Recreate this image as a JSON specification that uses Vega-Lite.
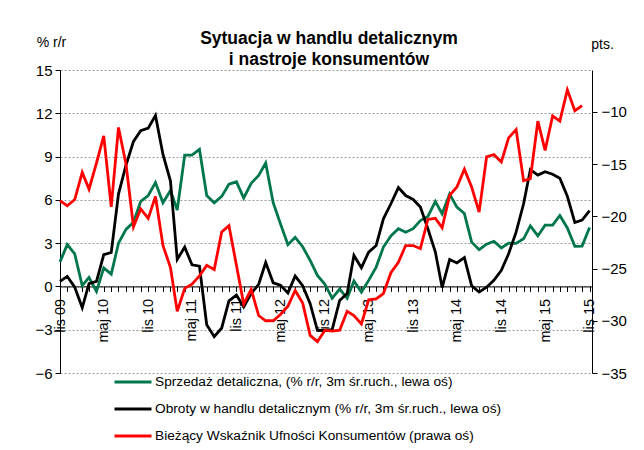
{
  "$schema": "https://vega.github.io/schema/vega-lite/v6.json",
  "width": 532,
  "height": 303,
  "autosize": {"type": "none"},
  "padding": {"left": 60, "top": 70, "right": 52, "bottom": 77},
  "background": "white",
  "title": {
    "text": ["Sytuacja w handlu detalicznym", "i nastroje konsumentów"],
    "fontSize": 17.5,
    "fontWeight": "bold",
    "font": "Liberation Sans",
    "anchor": "middle",
    "lineHeight": 21,
    "offset": 4,
    "dx": 3,
    "dy": 37,
    "color": "black"
  },
  "data": {
    "values": [
      {"m": "2009-11-01T00:00:00", "sprzedaz": 1.7, "obroty": 0.35, "ufnosc": -18.5},
      {"m": "2009-12-01T00:00:00", "sprzedaz": 2.9, "obroty": 0.7, "ufnosc": -19.0},
      {"m": "2010-01-01T00:00:00", "sprzedaz": 2.25, "obroty": -0.05, "ufnosc": -18.4},
      {"m": "2010-02-01T00:00:00", "sprzedaz": 0.05, "obroty": -1.48, "ufnosc": -15.8},
      {"m": "2010-03-01T00:00:00", "sprzedaz": 0.62, "obroty": 0.2, "ufnosc": -17.4},
      {"m": "2010-04-01T00:00:00", "sprzedaz": -0.35, "obroty": 0.35, "ufnosc": -14.9},
      {"m": "2010-05-01T00:00:00", "sprzedaz": 1.28, "obroty": 2.2, "ufnosc": -12.3},
      {"m": "2010-06-01T00:00:00", "sprzedaz": 0.85, "obroty": 2.35, "ufnosc": -19.1},
      {"m": "2010-07-01T00:00:00", "sprzedaz": 3.0, "obroty": 6.4, "ufnosc": -11.5},
      {"m": "2010-08-01T00:00:00", "sprzedaz": 3.95, "obroty": 8.4, "ufnosc": -15.0},
      {"m": "2010-09-01T00:00:00", "sprzedaz": 4.45, "obroty": 10.05, "ufnosc": -21.0},
      {"m": "2010-10-01T00:00:00", "sprzedaz": 5.9, "obroty": 10.8, "ufnosc": -19.3},
      {"m": "2010-11-01T00:00:00", "sprzedaz": 6.3, "obroty": 10.97, "ufnosc": -20.2},
      {"m": "2010-12-01T00:00:00", "sprzedaz": 7.2, "obroty": 11.85, "ufnosc": -18.1},
      {"m": "2011-01-01T00:00:00", "sprzedaz": 5.8, "obroty": 9.15, "ufnosc": -22.8},
      {"m": "2011-02-01T00:00:00", "sprzedaz": 6.65, "obroty": 7.3, "ufnosc": -24.9},
      {"m": "2011-03-01T00:00:00", "sprzedaz": 5.3, "obroty": 1.88, "ufnosc": -29.1},
      {"m": "2011-04-01T00:00:00", "sprzedaz": 9.1, "obroty": 2.72, "ufnosc": -26.9},
      {"m": "2011-05-01T00:00:00", "sprzedaz": 9.1, "obroty": 1.5, "ufnosc": -26.5},
      {"m": "2011-06-01T00:00:00", "sprzedaz": 9.5, "obroty": 1.4, "ufnosc": -25.7},
      {"m": "2011-07-01T00:00:00", "sprzedaz": 6.3, "obroty": -2.65, "ufnosc": -24.7},
      {"m": "2011-08-01T00:00:00", "sprzedaz": 5.8, "obroty": -3.48, "ufnosc": -25.1},
      {"m": "2011-09-01T00:00:00", "sprzedaz": 6.24, "obroty": -2.88, "ufnosc": -21.5},
      {"m": "2011-10-01T00:00:00", "sprzedaz": 7.08, "obroty": -1.0, "ufnosc": -20.9},
      {"m": "2011-11-01T00:00:00", "sprzedaz": 7.25, "obroty": -0.6, "ufnosc": -24.7},
      {"m": "2011-12-01T00:00:00", "sprzedaz": 6.13, "obroty": -1.43, "ufnosc": -28.4},
      {"m": "2012-01-01T00:00:00", "sprzedaz": 7.15, "obroty": -0.5, "ufnosc": -27.0},
      {"m": "2012-02-01T00:00:00", "sprzedaz": 7.69, "obroty": 0.15, "ufnosc": -29.5},
      {"m": "2012-03-01T00:00:00", "sprzedaz": 8.55, "obroty": 1.66, "ufnosc": -30.0},
      {"m": "2012-04-01T00:00:00", "sprzedaz": 5.8, "obroty": 0.25, "ufnosc": -30.0},
      {"m": "2012-05-01T00:00:00", "sprzedaz": 4.34, "obroty": 0.08, "ufnosc": -29.4},
      {"m": "2012-06-01T00:00:00", "sprzedaz": 2.89, "obroty": -0.45, "ufnosc": -28.6},
      {"m": "2012-07-01T00:00:00", "sprzedaz": 3.4, "obroty": 0.72, "ufnosc": -27.1},
      {"m": "2012-08-01T00:00:00", "sprzedaz": 2.75, "obroty": 0.05, "ufnosc": -28.3},
      {"m": "2012-09-01T00:00:00", "sprzedaz": 1.8, "obroty": -1.2, "ufnosc": -31.4},
      {"m": "2012-10-01T00:00:00", "sprzedaz": 0.76, "obroty": -3.05, "ufnosc": -32.0},
      {"m": "2012-11-01T00:00:00", "sprzedaz": 0.15, "obroty": -3.05, "ufnosc": -30.9},
      {"m": "2012-12-01T00:00:00", "sprzedaz": -0.82, "obroty": -3.0, "ufnosc": -31.0},
      {"m": "2013-01-01T00:00:00", "sprzedaz": -0.18, "obroty": -0.97, "ufnosc": -30.9},
      {"m": "2013-02-01T00:00:00", "sprzedaz": -0.82, "obroty": -0.5, "ufnosc": -29.1},
      {"m": "2013-03-01T00:00:00", "sprzedaz": 0.38, "obroty": 2.15, "ufnosc": -29.5},
      {"m": "2013-04-01T00:00:00", "sprzedaz": -0.39, "obroty": 1.3, "ufnosc": -30.3},
      {"m": "2013-05-01T00:00:00", "sprzedaz": 0.42, "obroty": 2.38, "ufnosc": -28.0},
      {"m": "2013-06-01T00:00:00", "sprzedaz": 1.34, "obroty": 2.84, "ufnosc": -27.9},
      {"m": "2013-07-01T00:00:00", "sprzedaz": 2.73, "obroty": 4.69, "ufnosc": -27.4},
      {"m": "2013-08-01T00:00:00", "sprzedaz": 3.5, "obroty": 5.73, "ufnosc": -25.4},
      {"m": "2013-09-01T00:00:00", "sprzedaz": 4.0, "obroty": 6.85, "ufnosc": -24.4},
      {"m": "2013-10-01T00:00:00", "sprzedaz": 3.76, "obroty": 6.3, "ufnosc": -22.8},
      {"m": "2013-11-01T00:00:00", "sprzedaz": 4.0, "obroty": 6.03, "ufnosc": -22.8},
      {"m": "2013-12-01T00:00:00", "sprzedaz": 4.57, "obroty": 5.5, "ufnosc": -23.1},
      {"m": "2014-01-01T00:00:00", "sprzedaz": 4.85, "obroty": 4.0, "ufnosc": -20.3},
      {"m": "2014-02-01T00:00:00", "sprzedaz": 5.89, "obroty": 2.38, "ufnosc": -20.2},
      {"m": "2014-03-01T00:00:00", "sprzedaz": 5.03, "obroty": -0.08, "ufnosc": -21.1},
      {"m": "2014-04-01T00:00:00", "sprzedaz": 6.4, "obroty": 1.87, "ufnosc": -18.0},
      {"m": "2014-05-01T00:00:00", "sprzedaz": 5.5, "obroty": 1.63, "ufnosc": -17.2},
      {"m": "2014-06-01T00:00:00", "sprzedaz": 5.05, "obroty": 2.0, "ufnosc": -15.5},
      {"m": "2014-07-01T00:00:00", "sprzedaz": 3.07, "obroty": 0.05, "ufnosc": -17.2},
      {"m": "2014-08-01T00:00:00", "sprzedaz": 2.55, "obroty": -0.39, "ufnosc": -19.6},
      {"m": "2014-09-01T00:00:00", "sprzedaz": 2.93, "obroty": -0.05, "ufnosc": -14.3},
      {"m": "2014-10-01T00:00:00", "sprzedaz": 3.13, "obroty": 0.42, "ufnosc": -14.1},
      {"m": "2014-11-01T00:00:00", "sprzedaz": 2.67, "obroty": 1.11, "ufnosc": -14.8},
      {"m": "2014-12-01T00:00:00", "sprzedaz": 3.0, "obroty": 2.26, "ufnosc": -12.5},
      {"m": "2015-01-01T00:00:00", "sprzedaz": 2.98, "obroty": 3.76, "ufnosc": -11.7},
      {"m": "2015-02-01T00:00:00", "sprzedaz": 3.3, "obroty": 5.73, "ufnosc": -16.6},
      {"m": "2015-03-01T00:00:00", "sprzedaz": 4.2, "obroty": 8.1, "ufnosc": -16.4},
      {"m": "2015-04-01T00:00:00", "sprzedaz": 3.5, "obroty": 7.72, "ufnosc": -10.9},
      {"m": "2015-05-01T00:00:00", "sprzedaz": 4.25, "obroty": 7.95, "ufnosc": -13.7},
      {"m": "2015-06-01T00:00:00", "sprzedaz": 4.25, "obroty": 7.78, "ufnosc": -10.4},
      {"m": "2015-07-01T00:00:00", "sprzedaz": 4.92, "obroty": 7.5, "ufnosc": -10.9},
      {"m": "2015-08-01T00:00:00", "sprzedaz": 4.05, "obroty": 6.25, "ufnosc": -7.9},
      {"m": "2015-09-01T00:00:00", "sprzedaz": 2.78, "obroty": 4.43, "ufnosc": -9.9},
      {"m": "2015-10-01T00:00:00", "sprzedaz": 2.8, "obroty": 4.6, "ufnosc": -9.4},
      {"m": "2015-11-01T00:00:00", "sprzedaz": 4.08, "obroty": 5.25, "ufnosc": null}
    ]
  },
  "layer": [
    {
      "transform": [{"fold": ["sprzedaz", "obroty"], "as": ["series", "value"]}],
      "mark": {"type": "line", "strokeWidth": 2.8, "strokeJoin": "miter"},
      "encoding": {
        "x": {
          "field": "m",
          "type": "temporal",
          "scale": {
            "domain": [
              {"year": 2009, "month": 11, "date": 1},
              {"year": 2015, "month": 11, "date": 11}
            ],
            "nice": false
          },
          "axis": {
            "orient": "bottom",
            "offset": -86.57,
            "tickCount": {"interval": "month", "step": 1},
            "labelExpr": "month(datum.value) == 4 ? 'maj ' + timeFormat(datum.value, '%y') : (month(datum.value) == 10 ? 'lis ' + timeFormat(datum.value, '%y') : '')",
            "labelAngle": 270,
            "labelAlign": "right",
            "labelBaseline": "middle",
            "labelFontSize": 14.5,
            "labelPadding": 7,
            "labelOverlap": false,
            "labelFlush": false,
            "labelBound": false,
            "tickSize": 5,
            "grid": false,
            "title": null
          }
        },
        "y": {
          "field": "value",
          "type": "quantitative",
          "scale": {"domain": [-6, 15], "nice": false, "zero": false},
          "axis": {
            "values": [-6, -3, 0, 3, 6, 9, 12, 15],
            "grid": true,
            "gridDash": [2, 2],
            "gridColor": "#9a9a9a",
            "gridWidth": 1,
            "tickSize": 5,
            "labelFontSize": 15,
            "labelPadding": 3,
            "labelFlush": false,
            "title": "% r/r",
            "titleAngle": 0,
            "titleX": -9,
            "titleY": -28,
            "titleAlign": "center",
            "titleBaseline": "middle",
            "titleFontWeight": "normal",
            "titleFontSize": 14
          }
        },
        "color": {
          "field": "series",
          "type": "nominal",
          "scale": {
            "domain": ["sprzedaz", "obroty", "ufnosc"],
            "range": ["#00774A", "#000000", "#FF0000"]
          },
          "legend": {
            "orient": "none",
            "legendX": 53,
            "legendY": 292,
            "direction": "vertical",
            "title": null,
            "symbolType": "stroke",
            "symbolSize": 1369,
            "symbolStrokeWidth": 2.8,
            "labelFontSize": 13.7,
            "labelOffset": 2,
            "rowPadding": -5,
            "labelLimit": 0,
            "padding": 0,
            "labelColor": "black",
            "labelExpr": "datum.label == 'sprzedaz' ? 'Sprzedaż detaliczna, (% r/r, 3m śr.ruch., lewa oś)' : (datum.label == 'obroty' ? 'Obroty w handlu detalicznym (% r/r, 3m śr.ruch., lewa oś)' : 'Bieżący Wskaźnik Ufności Konsumentów (prawa oś)')"
          }
        }
      }
    },
    {
      "transform": [{"fold": ["ufnosc"], "as": ["series", "value"]}],
      "mark": {"type": "line", "strokeWidth": 2.8, "strokeJoin": "miter"},
      "encoding": {
        "x": {"field": "m", "type": "temporal"},
        "y": {
          "field": "value",
          "type": "quantitative",
          "scale": {"domain": [-35, -6], "nice": false, "zero": false},
          "axis": {
            "orient": "right",
            "values": [-35, -30, -25, -20, -15, -10],
            "grid": false,
            "tickSize": 5,
            "labelFontSize": 15,
            "labelPadding": 4,
            "labelFlush": false,
            "title": "pts.",
            "titleAngle": 0,
            "titleX": 10,
            "titleY": -26,
            "titleAlign": "center",
            "titleBaseline": "middle",
            "titleFontWeight": "normal",
            "titleFontSize": 14
          }
        },
        "color": {"field": "series", "type": "nominal"}
      }
    }
  ],
  "resolve": {"scale": {"y": "independent"}},
  "config": {
    "font": "Liberation Sans",
    "view": {"stroke": null},
    "axis": {
      "domainColor": "black",
      "domainWidth": 1,
      "tickColor": "black",
      "tickWidth": 1,
      "labelColor": "black",
      "titleColor": "black",
      "labelFont": "Liberation Sans",
      "titleFont": "Liberation Sans"
    },
    "legend": {"labelFont": "Liberation Sans"}
  }
}
